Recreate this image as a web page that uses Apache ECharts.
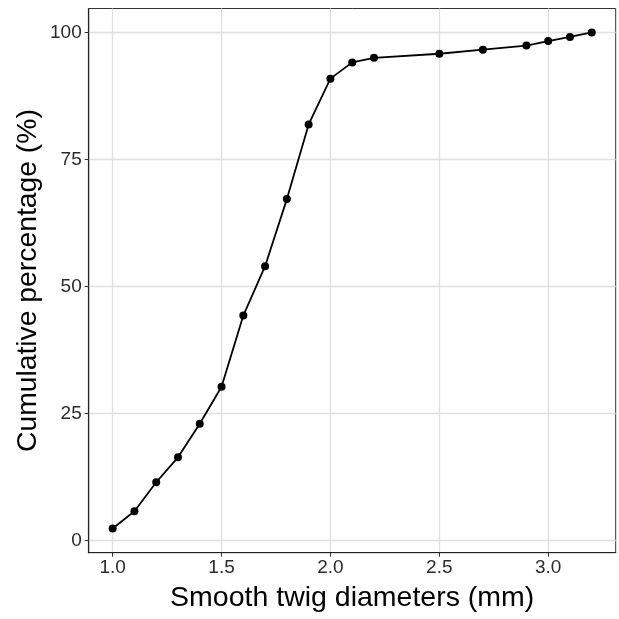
<!DOCTYPE html>
<html>
<head>
<meta charset="utf-8">
<script src="https://cdn.jsdelivr.net/npm/echarts@6/dist/echarts.min.js"></script>
<style>
html,body{margin:0;padding:0;background:#fff;}
#chart{width:619px;height:619px;}
</style>
</head>
<body>
<div id="chart"></div>
<script>
// Data
const diameters = [1.0, 1.1, 1.2, 1.3, 1.4, 1.5, 1.6, 1.7, 1.8, 1.9, 2.0, 2.1, 2.2, 2.5, 2.7, 2.9, 3.0, 3.1, 3.2];
const cumulative = [2.4, 5.8, 11.5, 16.4, 23.0, 30.3, 44.3, 54.0, 67.2, 81.9, 90.9, 94.1, 95.0, 95.8, 96.6, 97.4, 98.3, 99.1, 100.0];
const xTicks = [1.0, 1.5, 2.0, 2.5, 3.0];
const yTicks = [0, 25, 50, 75, 100];
const xTitle = 'Smooth twig diameters (mm)';
const yTitle = 'Cumulative percentage (%)';

const points = diameters.map((d, i) => [d, cumulative[i]]);
const font = '"Liberation Sans", Arial, sans-serif';

const chart = echarts.init(document.getElementById('chart'), null, {renderer: 'canvas'});
chart.setOption({
  animation: false,
  backgroundColor: '#fff',
  grid: {
    left: 88.7, top: 8.5, right: 3.3, bottom: 66.3,
    show: true, borderColor: '#333', borderWidth: 1, backgroundColor: 'transparent'
  },
  xAxis: {
    type: 'value',
    min: 0.89, max: 3.31,
    name: xTitle,
    nameLocation: 'middle',
    nameGap: 31,
    nameMoveOverlap: false,
    nameTextStyle: {fontFamily: font, fontSize: 28.5, color: '#000'},
    axisLine: {show: true, onZero: false, lineStyle: {color: '#222', width: 1.2}},
    axisTick: {show: true, length: 4, customValues: xTicks, lineStyle: {color: '#333'}},
    axisLabel: {
      customValues: xTicks, margin: 6,
      fontFamily: font, fontSize: 19, color: '#2b2b2b',
      formatter: v => Number(v).toFixed(1)
    },
    splitLine: {show: true, lineStyle: {color: '#e0e0e0', width: 1.3}},
    minorSplitLine: {show: false}
  },
  yAxis: {
    type: 'value',
    min: -2.36, max: 104.7,
    name: yTitle,
    nameLocation: 'middle',
    nameGap: 47,
    nameMoveOverlap: false,
    nameTextStyle: {fontFamily: font, fontSize: 28.3, color: '#000'},
    axisLine: {show: true, onZero: false, lineStyle: {color: '#222', width: 1.2}},
    axisTick: {show: true, length: 4, customValues: yTicks, lineStyle: {color: '#333'}},
    axisLabel: {
      customValues: yTicks, margin: 7,
      fontFamily: font, fontSize: 19, color: '#2b2b2b'
    },
    splitLine: {show: true, lineStyle: {color: '#e0e0e0', width: 1.3}}
  },
  series: [{
    type: 'line',
    data: points,
    symbol: 'circle',
    symbolSize: 8,
    lineStyle: {color: '#000', width: 1.8},
    itemStyle: {color: '#000'},
    z: 5
  }]
});
</script>
</body>
</html>
